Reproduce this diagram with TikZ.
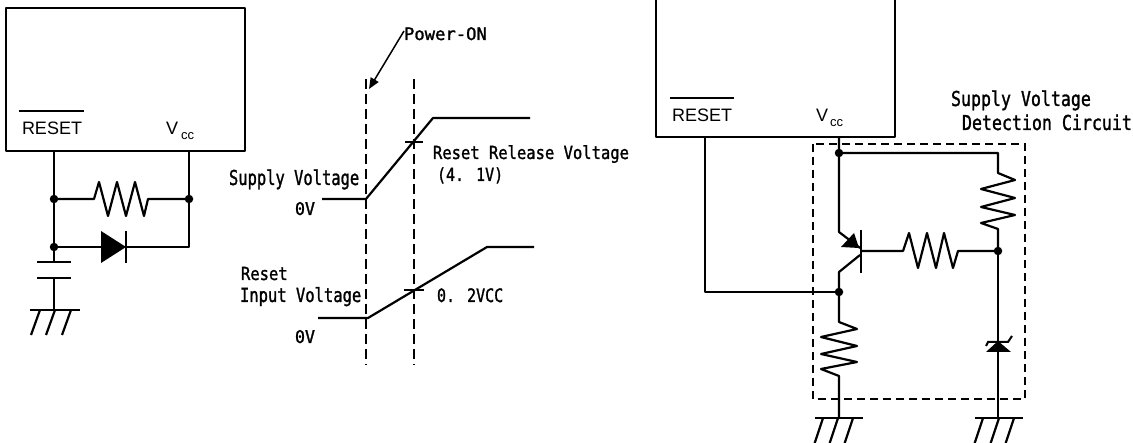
\documentclass[tikz,border=0pt]{standalone}
\usepackage{fontspec}
\usepackage{graphicx}
\setmainfont{Liberation Sans}
\newfontfamily\gothic[FakeBold=1.5]{DejaVu Sans Mono}
\usetikzlibrary{arrows.meta}
\newcommand\lbl[3]{\scalebox{#1}[#2]{\fontsize{10}{12}\gothic #3}}
\begin{document}
\begin{tikzpicture}[x=1pt,y=-1pt,
  w/.style={line width=2.2pt,line join=round},
  jdot/.style={circle,fill=black,inner sep=0pt,minimum size=8.5pt},
  lb/.style={anchor=base west,inner sep=0pt,outer sep=0pt},
  pin/.style={anchor=base west,inner sep=0pt,outer sep=0pt,font=\fontsize{18}{20}\selectfont},
  sub/.style={anchor=base west,inner sep=0pt,outer sep=0pt,font=\fontsize{13}{15}\selectfont},
  vdash/.style={line width=2.5pt,dash pattern=on 10pt off 5pt},
  bdash/.style={line width=1.6pt,dash pattern=on 8pt off 5pt}]
\useasboundingbox (0,0) rectangle (1133,443);

% ================= left circuit =================
\draw[w] (6,8) rectangle (245,151);
\node[pin] (rst1) at (22,135) {RESET};
\draw[w] (19,111) -- (84,111);
\node[pin] (v1) at (166,135) {V};
\node[sub] (cc1) at (181,140) {cc};
\coordinate (Lr) at (54,151);
\coordinate (Lv) at (189,151);
\node[jdot] (J1) at (54,199) {};
\node[jdot] (J2) at (189,199) {};
\node[jdot] (J3) at (54,247) {};
\coordinate (C1) at (54,262);
\coordinate (C2) at (54,278);
\coordinate (G1) at (54,310);
\draw[w] (Lr) -- (J1.center) -- (J3.center) -- (C1);
\draw[w] (Lv) -- (J2.center) -- (189,247) -- (126,247);
\draw[w] (J1.center) -- (94,199) -- (99,182) -- (108,216) -- (117,182) -- (126,216)
  -- (135,182) -- (144,216) -- (148,199) -- (J2.center);
\draw[w] (J3.center) -- (101,247);
\fill (101,231) -- (126,247) -- (101,263) -- cycle;
\draw[w] (126,231) -- (126,263);
\draw[w] (37,262) -- (71,262);
\draw[w] (37,278) -- (71,278);
\draw[w] (C2) -- (G1);
\draw[w] (30,310) -- (80,310);
\draw[w] (40,310) -- (31,335) (55,310) -- (46,335) (71,310) -- (62,335);

% ================= timing chart =================
\node[lb] (pon) at (404,40) {\lbl{1.72}{1.72}{Power-ON}};
\coordinate (ponA) at (404,31);
\coordinate (ponB) at (369,89);
\draw[line width=1.5pt,-{Triangle[length=11pt,width=9pt]}] (ponA) -- (ponB);
\draw[vdash] (366,79) -- (366,365);
\draw[vdash] (414,79) -- (414,365);
\draw[w] (322,199) -- (366,199) -- (433,118) -- (530,118);
\draw[w] (405,142) -- (423,142);
\draw[w] (318,318) -- (368,318) -- (487,247) -- (534,247);
\draw[w] (404,290) -- (424,290);
\node[lb] (srv) at (433,159) {\lbl{1.55}{1.8}{Reset Release Voltage}};
\node[lb] (v41) at (437,181) {\lbl{1.5}{1.8}{(4. 1V)}};
\node[lb] (sv) at (229,185) {\lbl{1.545}{2.05}{Supply Voltage}};
\node[lb] (z1) at (295,215) {\lbl{1.66}{1.75}{0V}};
\node[lb] (riv1) at (241,280) {\lbl{1.55}{1.8}{Reset}};
\node[lb] (riv2) at (240,302) {\lbl{1.55}{1.95}{Input Voltage}};
\node[lb] (z2) at (295,343) {\lbl{1.66}{1.75}{0V}};
\node[lb] (vcc02) at (437,302) {\lbl{1.5}{1.85}{0. 2VCC}};

% ================= right circuit =================
\draw[w] (656,-5) -- (656,137) -- (895,137) -- (895,-5);
\node[pin] (rst2) at (672,122) {RESET};
\draw[w] (670,98) -- (734,98);
\node[pin] (v2) at (816,122) {V};
\node[sub] (cc2) at (830,127) {cc};
\node[lb] (svd1) at (951,106) {\lbl{1.66}{2.05}{Supply Voltage}};
\node[lb] (svd2) at (962,130) {\lbl{1.66}{2.05}{Detection Circuit}};
\draw[bdash] (813,144) rectangle (1025,399);

\coordinate (Rr) at (705,137);
\coordinate (Rv) at (839,137);
\node[jdot] (K1) at (839,153) {};
\node[jdot] (K2) at (839,292) {};
\node[jdot] (K3) at (998,251) {};
\coordinate (TR) at (998,153);
\coordinate (E1) at (839,232);
\coordinate (E2) at (860,248);
\coordinate (Cl1) at (860,255);
\coordinate (Cl2) at (839,272);
\coordinate (G2) at (839,418);
\coordinate (G3) at (998,418);

\draw[w] (Rr) -- (705,292) -- (K2.center);
\draw[w] (Rv) -- (K1.center) -- (E1) -- (E2);
\fill (859,248) -- (841,247) -- (854,233) -- cycle;
\draw[w] (861,230) -- (861,273);
\draw[w] (Cl1) -- (Cl2) -- (K2.center);
\draw[w] (K1.center) -- (TR) -- (998,173) -- (1015,180) -- (981,189) -- (1015,198)
  -- (981,207) -- (1015,215) -- (981,223) -- (998,229) -- (K3.center);
\draw[w] (861,251) -- (903,251) -- (909,233) -- (918,268) -- (927,233) -- (936,268)
  -- (944,233) -- (953,268) -- (958,251) -- (K3.center);
\draw[w] (K2.center) -- (839,322) -- (857,329) -- (821,337) -- (857,346) -- (821,354)
  -- (857,362) -- (821,369) -- (839,376) -- (G2);
\draw[line width=1.8pt] (K3.center) -- (G3);
% zener
\fill (998,341) -- (1011,352) -- (986,352) -- cycle;
\draw[line width=2pt] (986,346) -- (988,342) -- (1008,342) -- (1012,336);
% grounds
\draw[w] (815,418) -- (863,418);
\draw[w] (823,418) -- (814,445) (838,418) -- (829,445) (853,418) -- (844,445);
\draw[w] (975,418) -- (1023,418);
\draw[w] (983,418) -- (974,445) (999,418) -- (990,445) (1014,418) -- (1005,445);
\end{tikzpicture}
\end{document}
